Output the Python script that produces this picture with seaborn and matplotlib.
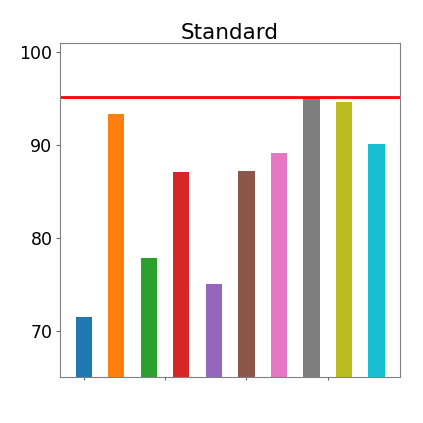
import matplotlib
matplotlib.use("Agg")
import matplotlib.pyplot as plt
import seaborn as sns
import pandas as pd

positions = [0, 1, 2, 3, 4, 5, 6, 7, 8, 9]
values = [71.5, 93.35, 77.85, 87.15, 75.05, 87.2, 89.1, 95.15, 94.7, 90.1]
threshold = 95.2
title = "Standard"
yticks = [70, 80, 90, 100]

colors = sns.color_palette("tab10", 10)

df = pd.DataFrame({"x": positions, "y": values, "g": [str(p) for p in positions]})

fig = plt.figure(figsize=(4.23, 4.23), dpi=100)
ax = fig.add_axes([0.142, 0.109, 0.804, 0.789])
sns.barplot(data=df, x="x", y="y", hue="g", palette=colors, native_scale=True,
            width=0.5, saturation=1, legend=False, ax=ax, dodge=False)
ax.axhline(threshold, color="red", linewidth=2)
ax.set_ylim(65, 101)
ax.set_xlim(-0.725, 9.725)
ax.set_yticks(yticks)
ax.set_xticks([0, 2.5, 5, 7.5])
ax.set_xticklabels([])
ax.set_xlabel("")
ax.set_ylabel("")
ax.tick_params(axis="y", labelsize=12.5, length=3, pad=2.5, color="0.4")
ax.tick_params(axis="x", length=2, color="0.4")
for s in ax.spines.values():
    s.set_color("0.5")
    s.set_linewidth(0.8)
ax.set_title(title, fontsize=15.5, pad=3)
fig.savefig("out.png", dpi=100)
